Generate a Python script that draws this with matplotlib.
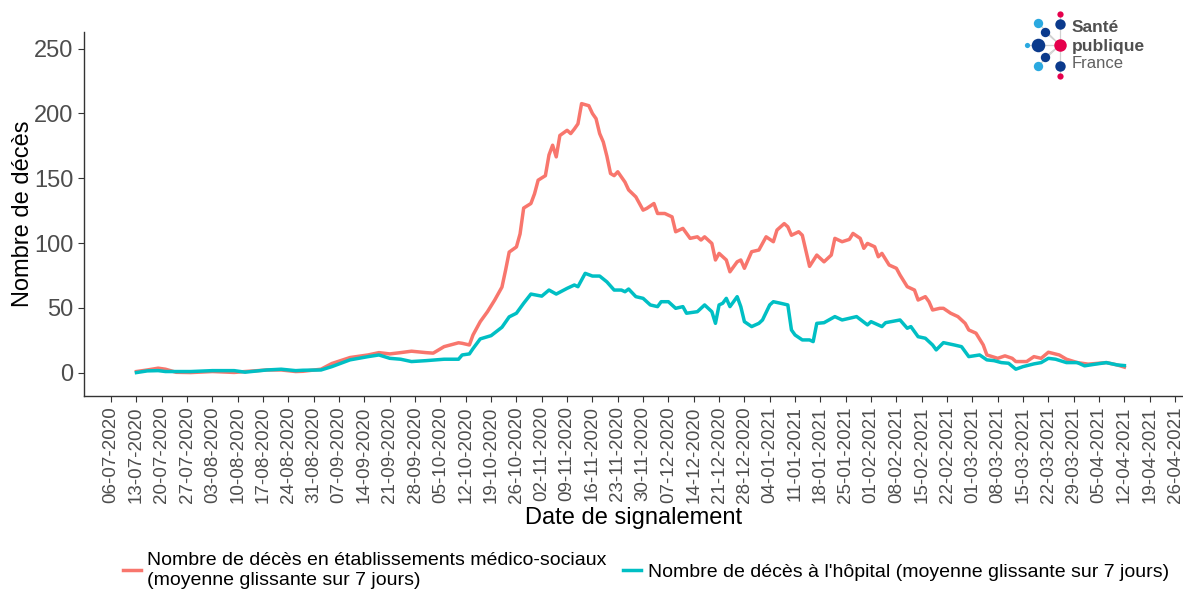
import matplotlib
matplotlib.use("Agg")
import numpy as np
import pandas as pd
import matplotlib.pyplot as plt
import matplotlib.dates as mdates

plt.rcParams['font.family'] = ['Liberation Sans', 'DejaVu Sans']

start = pd.Timestamp('2020-07-13')

# days since 13-07-2020
ems_days = [0, 3, 6, 8, 11, 15, 21, 27, 30, 36, 40, 44, 46, 51, 54, 59, 64, 67, 70, 73,
            76, 80, 82, 85, 89, 90, 92, 93, 95, 97, 99, 101, 102, 103, 105, 106, 107, 109,
            110, 111, 113, 114, 115, 116, 117, 119, 120, 121, 122, 123, 125, 126, 127, 128,
            129, 130, 131, 132, 133, 135, 136, 138, 140, 141, 143, 144, 146, 148, 149, 151,
            153, 155, 156, 157, 159, 160, 161, 163, 164, 166, 167, 168, 170, 172, 174, 176,
            177, 179, 180, 181, 183, 184, 185, 186, 188, 190, 192, 193, 195, 197, 198, 200,
            201, 202, 204, 205, 206, 208, 210, 211, 213, 215, 216, 218, 219, 220, 222, 223,
            225, 227, 229, 230, 232, 234, 235, 238, 240, 242, 243, 246, 248, 250, 252, 255,
            257, 260, 263, 268, 271, 273]
ems_vals = [0.8, 2, 3.4, 2.6, 0.2, 0, 0.8, 0.1, 0.8, 2, 2, 0.8, 1.0, 2.6, 7, 11.6, 13.6, 15.4, 14.4, 15.4,
            16.5, 15.4, 15, 20, 23, 22.6, 21.3, 29, 39.3, 47, 56, 66, 79, 93, 97, 107, 127, 130.5,
            138, 148.5, 152, 168, 175.5, 166.5, 183, 187, 184.5, 188, 192, 207.6, 206, 200, 196, 184.5,
            178, 167, 153.7, 152, 155, 147, 141, 135.6, 125.4, 126.7, 130.5, 122.8, 122.8, 120.2, 108.7, 111.3,
            103.6, 104.8, 102.3, 104.8, 99.7, 86.9, 92, 86.9, 77.8, 85.5, 86.9, 80.5, 93.3, 94.6, 104.8, 101,
            110, 115, 112.5, 106, 108.7, 106, 94, 82, 90.7, 85.5, 90.7, 103.6, 101, 102.8, 107.4, 103.6,
            95.9, 99.7, 97.1, 89.4, 92, 83, 80.5, 75.3, 66.3, 63.7, 56, 58.6, 54.7, 48.3, 49.6, 49.6,
            45.8, 43.2, 38, 32.9, 30.4, 21.3, 13.6, 11, 12.9, 11, 8.5, 8.5, 12.3, 11, 15.7, 13.6,
            10.3, 7.7, 6.5, 7.7, 5.9, 4.2]

hop_days = [0, 3, 6, 8, 11, 15, 21, 27, 30, 36, 40, 44, 46, 51, 54, 59, 64, 67, 70, 73,
            76, 80, 85, 89, 90, 92, 93, 95, 98, 101, 103, 105, 107, 109, 112, 114, 116, 119,
            121, 122, 124, 126, 128, 130, 132, 134, 135, 136, 138, 140, 142, 144, 145, 147,
            149, 151, 152, 155, 157, 159, 160, 161, 162, 163, 164, 165, 166, 167, 168, 170,
            172, 173, 175, 176, 178, 180, 181, 182, 184, 186, 187, 188, 190, 193, 195, 197,
            199, 202, 203, 206, 207, 211, 213, 214, 216, 218, 220, 221, 223, 226, 228, 230,
            233, 235, 237, 239, 241, 243, 245, 248, 250, 252, 254, 257, 260, 262, 265, 268,
            271, 273]
hop_vals = [0, 1.3, 1.5, 0.8, 0.8, 0.8, 1.5, 1.5, 0.3, 2, 2.6, 1.5, 1.8, 2, 4.6, 9.8, 12.3, 13.6, 11, 10.3,
            8.5, 9.2, 10.3, 10.3, 13.6, 14.4, 18.5, 26, 28.5, 35, 43, 45.8, 53.5, 60.6, 59, 63.7, 60.6, 65,
            67.6, 66.3, 76.6, 74.5, 74.5, 70, 63.7, 63.7, 62.4, 64.5, 58.6, 57.3, 52.2, 50.9, 54.7, 54.7,
            49.6, 50.9, 45.8, 47, 52.2, 47, 38, 52.2, 53.5, 57.3, 50.9, 54.7, 58.6, 50.9, 39.3, 35.5,
            38, 40.6, 52.2, 54.7, 53.5, 52.2, 32.9, 29, 25.2, 25.2, 23.9, 38, 38.5, 43.2, 40.6, 41.9,
            43.2, 36.8, 39.3, 35.5, 38.5, 40.6, 34.2, 35.5, 27.7, 26.5, 21.3, 17.5, 23.1, 21.3, 20, 12.3,
            13.6, 9.8, 9.2, 7.7, 7.2, 2.6, 4.6, 6.7, 7.7, 11, 10.3, 7.7, 7.7, 5.2, 6.5, 7.7,
            5.9, 5.4]

labels = ['Nombre de décès en établissements médico-sociaux\n(moyenne glissante sur 7 jours)',
          "Nombre de décès à l'hôpital (moyenne glissante sur 7 jours)"]
colors = ['#F8766D', '#00BFC4']

ems_dates = start + pd.to_timedelta(ems_days, unit='D')
hop_dates = start + pd.to_timedelta(hop_days, unit='D')

fig = plt.figure(figsize=(11.83, 5.90), dpi=100)
ax = fig.add_axes([0.071, 0.329, 0.929, 0.617])

ax.plot(ems_dates, ems_vals, color=colors[0], lw=2.5, label=labels[0])
ax.plot(hop_dates, hop_vals, color=colors[1], lw=2.5, label=labels[1])

week_ticks = pd.date_range('2020-07-06', '2021-04-26', freq='7D')
ax.set_xticks(week_ticks)
ax.xaxis.set_major_formatter(mdates.DateFormatter('%d-%m-%Y'))
ax.set_xlim(pd.Timestamp('2020-07-06') - pd.Timedelta(days=7.5),
            pd.Timestamp('2020-07-06') + pd.Timedelta(days=296.2))
ax.set_ylim(-18, 263)
ax.set_yticks([0, 50, 100, 150, 200, 250])

for s in ['top', 'right']:
    ax.spines[s].set_visible(False)
for s in ['left', 'bottom']:
    ax.spines[s].set_color('#333333')
    ax.spines[s].set_linewidth(1.0)
ax.tick_params(axis='x', labelrotation=90, labelsize=13.5, colors='#333333', labelcolor='#4D4D4D', length=4)
ax.tick_params(axis='y', labelsize=17, colors='#333333', labelcolor='#4D4D4D', length=4)
ax.set_xlabel('Date de signalement', fontsize=17, labelpad=3)
ax.set_ylabel('Nombre de décès', fontsize=17, labelpad=0)

fig.legend(loc='center', bbox_to_anchor=(0.546, 0.033), ncol=2, frameon=False,
           fontsize=14, handlelength=0.9, handletextpad=0.35, columnspacing=0.85,
           labelspacing=0.2)

# Santé publique France logo
lx = fig.add_axes([0, 0, 1, 1], zorder=5)
lx.set_xlim(0, 1183)
lx.set_ylim(590, 0)
lx.axis('off')
cx, cy = 1060, 45
dots = [(1060, 14, 3, '#E6004C'), (1060, 24, 5, '#0B3A8C'), (1038, 23, 4.5, '#2AA9E0'),
        (1045, 32, 4.5, '#0B3A8C'), (1038, 45, 6.5, '#0B3A8C'), (1027, 45, 2.5, '#2AA9E0'),
        (1060, 45, 6, '#E6004C'), (1045, 57, 4.5, '#0B3A8C'), (1038, 66, 4.5, '#2AA9E0'),
        (1060, 66, 5, '#0B3A8C'), (1060, 76, 3, '#E6004C')]
for x, y, r, c in dots:
    lx.plot([cx, x], [cy, y], color='#D0D0D0', lw=0.8, zorder=1)
for x, y, r, c in dots:
    lx.scatter(x, y, s=(r * 1.5) ** 2, color=c, zorder=2, linewidths=0)
lx.text(1072, 28, 'Santé', fontsize=12.5, fontweight='bold', color='#505050', va='center', ha='left')
lx.text(1072, 46, 'publique', fontsize=12.5, fontweight='bold', color='#505050', va='center', ha='left')
lx.text(1072, 64, 'France', fontsize=12, color='#606060', va='center', ha='left')

fig.savefig('out.png', dpi=100)
